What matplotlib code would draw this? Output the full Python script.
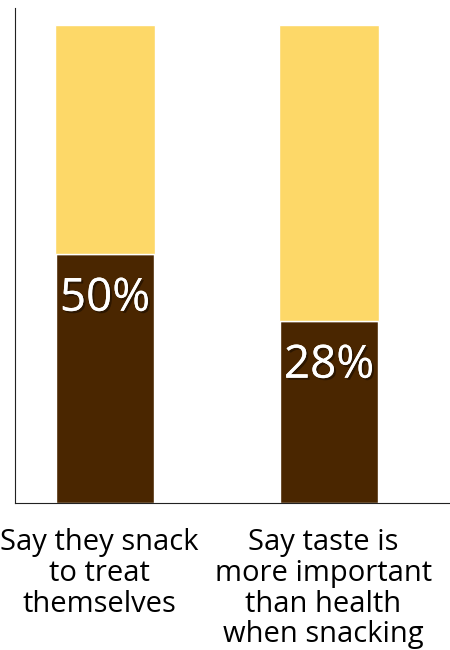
import matplotlib.pyplot as plt
import matplotlib.patheffects as pe

# Data
categories = ['Say they snack\nto treat\nthemselves',
              'Say taste is\nmore important\nthan health\nwhen snacking']
dark_values = [52, 38]
light_values = [48, 62]
value_labels = ['50%', '28%']

DARK = '#4a2600'
LIGHT = '#fdd868'

plt.rcParams['font.family'] = ['Open Sans', 'DejaVu Sans']

fig = plt.figure(figsize=(4.5, 6.5), dpi=100)
ax = fig.add_axes([15 / 450, 1 - 503 / 650, 1 - 15 / 450, (503 - 8) / 650])

x = range(len(categories))
ax.bar(x, dark_values, width=0.44, color=DARK, edgecolor='white', linewidth=1)
ax.bar(x, light_values, bottom=dark_values, width=0.45, color=LIGHT,
       edgecolor='white', linewidth=1)

shadow = [pe.withSimplePatchShadow(offset=(1.5, -1.5), shadow_rgbFace='black', alpha=0.4), pe.Normal()]
for i, (h, lab) in enumerate(zip(dark_values, value_labels)):
    ax.annotate(lab, (i, h), xytext=(0, -32), textcoords='offset points',
                ha='center', va='center', color='white', fontsize=33,
                path_effects=shadow)

for i, cat in enumerate(categories):
    ax.annotate(cat, (i, 0), xytext=(-4, -18), textcoords='offset points',
                ha='center', va='top', color='black', fontsize=21,
                linespacing=1.08, annotation_clip=False)

ax.set_xlim(-0.402, 1.54)
ax.set_ylim(0, 103.5)
ax.set_xticks([])
ax.set_yticks([])
for s in ['top', 'right']:
    ax.spines[s].set_visible(False)
ax.spines['left'].set_color('#222222')
ax.spines['bottom'].set_color('#222222')

plt.savefig('out.png')
